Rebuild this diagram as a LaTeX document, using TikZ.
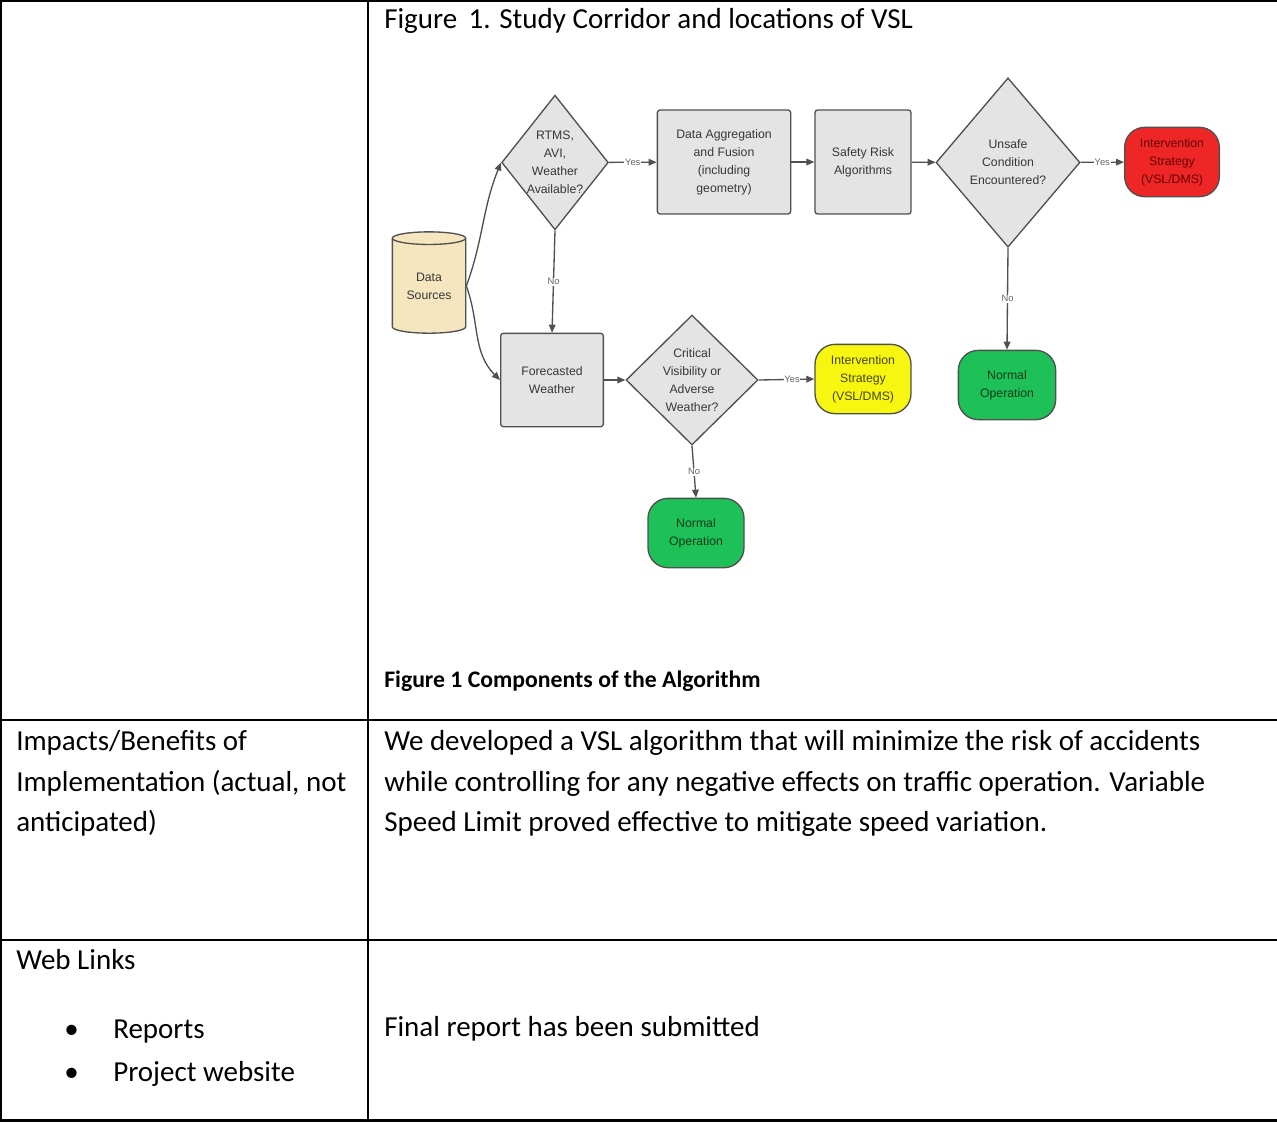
\documentclass[tikz,border=0pt]{standalone}
\usepackage{fontspec}
\setmainfont{Carlito}
\newfontfamily\chartfont{Liberation Sans}
\usetikzlibrary{shapes.geometric,arrows.meta}

\definecolor{boxgray}{RGB}{228,228,228}
\definecolor{linegray}{RGB}{80,80,80}
\definecolor{textgray}{RGB}{55,55,55}
\definecolor{labelgray}{RGB}{100,100,100}
\definecolor{beige}{RGB}{245,230,192}
\definecolor{alertred}{RGB}{238,38,38}
\definecolor{alerttext}{RGB}{100,0,0}
\definecolor{okgreen}{RGB}{30,192,88}
\definecolor{oktext}{RGB}{10,60,25}
\definecolor{warnyellow}{RGB}{246,246,16}
\definecolor{warntext}{RGB}{70,70,0}

\begin{document}
\begin{tikzpicture}[x=0.75pt,y=0.75pt,yscale=-1,xscale=1,
  cell/.style={anchor=base west,inner sep=0pt,font=\fontsize{21.75pt}{26pt}\selectfont},
  caption/.style={anchor=base west,inner sep=0pt,font=\fontsize{17.8pt}{21pt}\selectfont\bfseries},
  chart/.style={draw=linegray,line width=1pt,fill=boxgray,text=textgray,align=center,inner sep=0pt,
    font=\chartfont\fontsize{9.2pt}{13.5pt}\selectfont},
  procbox/.style={chart,rectangle,rounded corners=2pt},
  decision/.style={chart,diamond},
  terminal/.style={chart,rectangle,rounded corners=15pt,minimum width=72pt,minimum height=52pt},
  flow/.style={draw=linegray,line width=1pt,-{Triangle[length=6pt,width=5pt]}},
  answer/.style={fill=white,text=labelgray,inner sep=0.6pt,font=\chartfont\fontsize{7pt}{8pt}\selectfont}
]
\useasboundingbox (0,0) rectangle (1277,1122);

%Table rules
\draw [line width=1.6pt] (0,0.8) -- (1277,0.8) ;
\draw [line width=1.6pt] (1,0) -- (1,1122) ;
\draw [line width=1.6pt] (368,0) -- (368,1122) ;
\draw [line width=1.6pt] (0,720) -- (1277,720) ;
\draw [line width=1.6pt] (0,940) -- (1277,940) ;
\draw [line width=1.6pt] (0,1120.5) -- (1277,1120.5) ;

% Text Node
\node (title) at (384,28) [cell] {Figure\, 1. Study Corridor and locations of VSL};

%Shape: Can
\node (ds) at (429,286) [chart,cylinder,shape border rotate=90,aspect=0.28,fill=beige,
  minimum width=55pt,minimum height=76pt] {Data\\Sources};
%Shape: Diamond
\node (d1) at (555,162.5) [decision,aspect=0.79,minimum width=80pt,minimum height=101pt] {RTMS,\\AVI,\\Weather\\Available?};
%Shape: Rectangle
\node (da) at (724,162) [procbox,minimum width=100pt,minimum height=78pt] {Data Aggregation\\and Fusion\\(including\\geometry)};
\node (sr) at (863,162) [procbox,minimum width=72pt,minimum height=78pt] {Safety Risk\\Algorithms};
%Shape: Diamond
\node (d2) at (1008,162.5) [decision,minimum width=108pt,minimum height=127pt] {Unsafe\\Condition\\Encountered?};
%Shape: Terminal
\node (red) at (1172,162) [terminal,minimum width=71pt,fill=alertred,text=alerttext] {Intervention\\Strategy\\(VSL/DMS)};
\node (ok1) at (1007,385) [terminal,minimum width=73pt,fill=okgreen,text=oktext] {Normal\\Operation};
%Shape: Rectangle
\node (fw) at (552,380) [procbox,minimum width=77pt,minimum height=70pt] {Forecasted\\Weather};
%Shape: Diamond
\node (d3) at (692,380) [decision,minimum width=99pt,minimum height=97.5pt] {Critical\\Visibility or\\Adverse\\Weather?};
%Shape: Terminal
\node (yel) at (863,379) [terminal,fill=warnyellow,text=warntext] {Intervention\\Strategy\\(VSL/DMS)};
\node (ok2) at (696,533) [terminal,fill=okgreen,text=oktext] {Normal\\Operation};

%Connectors (y axis is flipped, so angles are mirrored)
\draw [flow] (ds.east) to[out=-70,in=112] (d1.west) ;
\draw [flow] (ds.east) to[out=70,in=225] (fw.west) ;
\draw [flow] (d1) -- node[answer] (y1) {Yes} (da) ;
\draw [flow] (da) -- (sr) ;
\draw [flow] (sr) -- (d2) ;
\draw [flow] (d2) -- node[answer] (y2) {Yes} (red) ;
\draw [flow] (d1.south) -- node[answer] (n1) {No} (fw.north) ;
\draw [flow] (d2.south) -- node[answer] (n2) {No} (ok1.north) ;
\draw [flow] (fw) -- (d3) ;
\draw [flow] (d3.east) -- node[answer,pos=0.6] (y3) {Yes} (yel.west) ;
\draw [flow] (d3.south) -- node[answer] (n3) {No} (ok2.north) ;

% Text Node
\node (cap) at (384,687) [caption] {Figure 1 Components of the Algorithm};

% Text Node
\node (imp1) at (16,750) [cell] {Impacts/Benefits of};
\node (imp2) at (16,791) [cell] {Implementation (actual, not};
\node (imp3) at (16,831) [cell] {anticipated)};
\node (dev1) at (384,750) [cell] {We developed a VSL algorithm that will minimize the risk of accidents};
\node (dev2) at (384,791) [cell] {while controlling for any negative effects on traffic operation. Variable};
\node (dev3) at (384,831) [cell] {Speed Limit proved effective to mitigate speed variation.};

% Text Node
\node (web) at (16,969) [cell] {Web Links};
\node (b1) at (64,1038) [cell] {\textbullet};
\node (rep) at (113,1038) [cell] {Reports};
\node (b2) at (64,1081) [cell] {\textbullet};
\node (site) at (113,1081) [cell] {Project website};
\node (fin) at (384,1036) [cell] {Final report has been submitted};

\end{tikzpicture}
\end{document}
